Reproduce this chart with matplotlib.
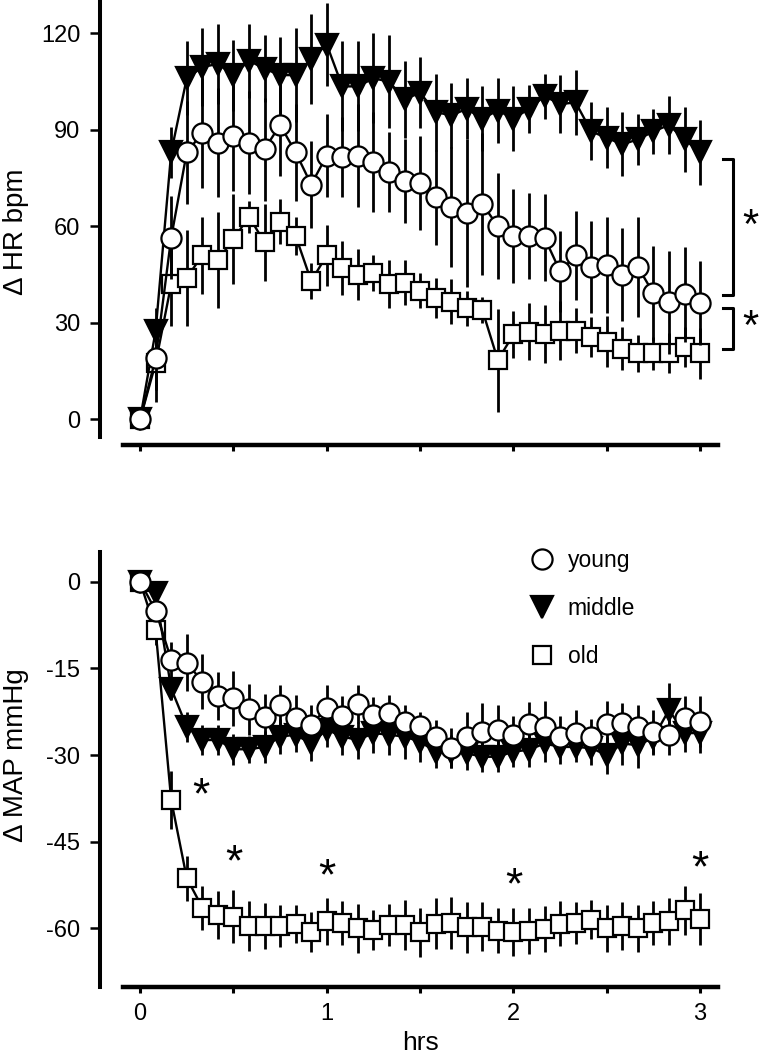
import matplotlib
matplotlib.use("Agg")
import matplotlib.pyplot as plt
from matplotlib.lines import Line2D

plt.rcParams['font.family'] = ['Liberation Sans', 'DejaVu Sans']
plt.rcParams['axes.unicode_minus'] = False

# sampling times (minutes after start)
minutes = [0, 5, 10, 15, 20, 25, 30, 35, 40, 45, 50, 55, 60, 65, 70, 75, 80, 85,
           90, 95, 100, 105, 110, 115, 120, 125, 130, 135, 140, 145, 150, 155,
           160, 165, 170, 175, 180]
hrs = [m / 60 for m in minutes]

# delta heart rate (bpm), mean and SEM
hr_young = [0, 19, 56.5, 83, 89, 86, 88, 86, 84, 91.5, 83, 73, 82, 81.5, 82, 80,
            77, 74, 73.4, 69, 66, 64, 67, 60, 57, 57, 56.5, 46, 51, 47.4, 48, 45,
            47.4, 39.2, 36.4, 38.9, 36.1]
hr_young_err = [0, 10, 13, 16, 17, 17, 17, 16, 16, 16, 15, 13.5, 13, 12.4, 16, 15.5,
                12.4, 13, 14.6, 14.7, 18.6, 23, 22, 16.5, 14.5, 13.5, 13.5, 12.5,
                13.8, 14.2, 15, 14.5, 15.6, 14.8, 16, 14.8, 13]
hr_middle = [0, 27.5, 83, 106, 109.5, 110.5, 107, 111.5, 109, 107, 107, 112, 116.5,
             103.5, 103.5, 106, 105, 99.5, 101.5, 95.5, 94.5, 96.5, 93.5, 96, 93.5,
             96.5, 100.5, 98, 98.5, 89.5, 87.5, 85.5, 87, 89.5, 91.5, 87, 83]
hr_middle_err = [0, 7, 8, 11.5, 12, 12.5, 11, 11.5, 10.5, 12, 14.5, 14, 13, 14, 14,
                 14, 14.5, 12, 11, 12, 10, 9.5, 10, 10, 10, 7.5, 7, 9, 10, 9, 9.5,
                 10, 8, 7, 9, 10, 10]
hr_old = [0, 17.5, 42, 44, 51, 49.5, 56, 63, 55, 61.5, 57, 43, 51, 47, 45, 45.5, 42,
          42.5, 40, 37.8, 36.6, 34.5, 34, 18.4, 26.4, 27.3, 26.4, 27.5, 27.5, 25.7,
          24.2, 22, 20.5, 20.5, 20.5, 22.6, 20.5]
hr_old_err = [0, 12, 13, 15, 12, 15, 14, 5, 12, 7, 6, 5.5, 9.5, 8.5, 8, 5.5, 7.5, 7,
              5.5, 6.2, 7, 5.5, 4, 16, 7.4, 9, 9, 9.2, 7, 6.2, 7.8, 6.7, 5.7, 5.2,
              6.2, 6.2, 7.8]

# delta mean arterial pressure (mmHg), mean and SEM
map_young = [0, -5, -13.5, -14, -17.3, -19.8, -20.2, -22.1, -23.5, -21.3, -23.6,
             -24.8, -21.8, -23.3, -21.2, -23.1, -22.8, -24.2, -25, -26.8, -28.8,
             -26.8, -26, -25.7, -26.5, -24.6, -25.1, -26.8, -26.2, -26.8, -24.6,
             -24.4, -25.1, -26, -26.5, -23.6, -24.2]
map_young_err = [0, 1.5, 3, 5, 4.8, 4.2, 4.8, 4.4, 4, 3.5, 4, 3.5, 4, 3.5, 3.3, 3.2,
                 3.2, 2.9, 2.5, 2.9, 3.4, 4.3, 5, 4.4, 3.3, 3.8, 4.4, 3.6, 4, 3, 4,
                 3.4, 3.8, 3.8, 3.5, 3.8, 4.4]
map_middle = [0, -2, -18.5, -25.1, -27.4, -27.4, -29, -29, -28.6, -26.8, -26.5, -28,
              -25.6, -26.8, -27.4, -26.2, -26.5, -26.8, -27.7, -29.4, -29.4, -29.7,
              -30.3, -30.3, -29.4, -29.1, -28, -28.6, -28.6, -28.8, -30, -28, -28.3,
              -27, -22.2, -26.2, -26.2]
map_middle_err = [0, 1, 2, 2.6, 2.6, 2.6, 2.7, 2.3, 2.8, 3, 3, 3, 3, 3.2, 3.2, 3.5,
                  3.5, 3.8, 3.5, 2.9, 2.9, 2.9, 2.6, 2.7, 2.6, 2.9, 3.2, 3, 2.6, 3,
                  3.2, 3.7, 4, 3, 4.6, 3.2, 3.5]
map_old = [0, -8.4, -37.8, -51.3, -56.4, -57.7, -58, -59.6, -59.6, -59.6, -59.2,
           -60.6, -58.8, -59.1, -60, -60.3, -59.4, -59.4, -60.7, -59.2, -59, -59.8,
           -59.7, -60.4, -60.6, -60.4, -60.1, -59.2, -59.1, -58.5, -60, -59.6, -60,
           -59, -58.8, -56.9, -58.3]
map_old_err = [0, 2.5, 5, 3.9, 3.8, 4.2, 4.6, 4.4, 4, 3.6, 3.3, 3.5, 4, 3.8, 4.2,
               3.5, 3.7, 4.3, 4.3, 4.4, 4.5, 4.4, 4.3, 3.9, 4.1, 4, 4, 3.9, 3.6,
               3.4, 4.1, 4.1, 4.1, 3.8, 4, 4.2, 4.5]

# significance marks
map_star_x = [0.325, 0.5, 1.0, 2.0, 3.0]
map_star_y = [-37.2, -48.8, -51.3, -52.8, -49.9]
hr_brackets = [(81, 38.6), (34.5, 22)]

groups = ["young", "middle", "old"]
styles = {
    "young": dict(marker="o", ms=14.5, mfc="white"),
    "middle": dict(marker="v", ms=15.5, mfc="black"),
    "old": dict(marker="s", ms=13, mfc="white"),
}


def draw(ax, data):
    z = 2
    for name in ["old", "middle", "young"]:
        y, err = data[name]
        ax.errorbar(hrs, y, yerr=err, fmt="none", ecolor="black", elinewidth=2.0,
                    capsize=0, zorder=z)
        ax.plot(hrs, y, color="black", lw=1.7, mec="black", mew=1.6,
                zorder=z + 1, **styles[name])
        z += 2


def style(ax, bottom_offset):
    for s in ["top", "right"]:
        ax.spines[s].set_visible(False)
    ax.spines["left"].set_linewidth(2.9)
    ax.spines["bottom"].set_linewidth(3.2)
    ax.spines["left"].set_position(("outward", 16.3))
    ax.spines["bottom"].set_position(("outward", bottom_offset))
    ax.set_xlim(-0.093, 3.096)
    ax.set_xticks([0, 0.5, 1, 1.5, 2, 2.5, 3])
    ax.tick_params(axis="y", length=7.2, width=1.8, pad=7, labelsize=17)
    ax.tick_params(axis="x", length=4.3, width=2.2, pad=7, labelsize=17)


fig = plt.figure(figsize=(7.59, 10.59), dpi=100)

ax1 = fig.add_axes([0.1617, 0.5876, 0.7843, 0.4124])
draw(ax1, {"young": (hr_young, hr_young_err),
           "middle": (hr_middle, hr_middle_err),
           "old": (hr_old, hr_old_err)})
style(ax1, 6)
ax1.set_ylim(-5.4, 130.35)
ax1.set_yticks([0, 30, 60, 90, 120])
ax1.set_xticklabels([])
ax1.set_ylabel("\u0394 HR bpm", fontsize=20)
ax1.yaxis.set_label_coords(-0.158, 0.469)
for top, bot in hr_brackets:
    ax1.plot([3.122, 3.176, 3.176, 3.122], [top, top, bot, bot], color="black",
             lw=2.2, clip_on=False)
    ax1.text(3.27, (top + bot) / 2, "*", fontsize=30, ha="center", va="center",
             clip_on=False)

ax2 = fig.add_axes([0.1617, 0.068, 0.7843, 0.411])
draw(ax2, {"young": (map_young, map_young_err),
           "middle": (map_middle, map_middle_err),
           "old": (map_old, map_old_err)})
style(ax2, 0)
ax2.set_ylim(-70.15, 5.19)
ax2.set_yticks([0, -15, -30, -45, -60])
ax2.set_xticklabels(["0", "", "1", "", "2", "", "3"])
ax2.set_ylabel("\u0394 MAP mmHg", fontsize=20)
ax2.yaxis.set_label_coords(-0.158, 0.533)
ax2.set_xlabel("hrs", fontsize=19)
ax2.xaxis.set_label_coords(0.5, -0.1)
for sx, sy in zip(map_star_x, map_star_y):
    ax2.text(sx, sy, "*", fontsize=32, ha="center", va="center")

handles = [Line2D([], [], linestyle="none", color="black", mec="black", mew=1.6,
                  **styles[g]) for g in groups]
ax2.legend(handles, groups, loc="upper left", bbox_to_anchor=(0.6992, 0.4815),
           bbox_transform=fig.transFigure, frameon=False, fontsize=16.5,
           handlelength=1.0, handletextpad=0.62, labelspacing=1.08, borderpad=0,
           borderaxespad=0)

fig.savefig("out.png", dpi=100)
